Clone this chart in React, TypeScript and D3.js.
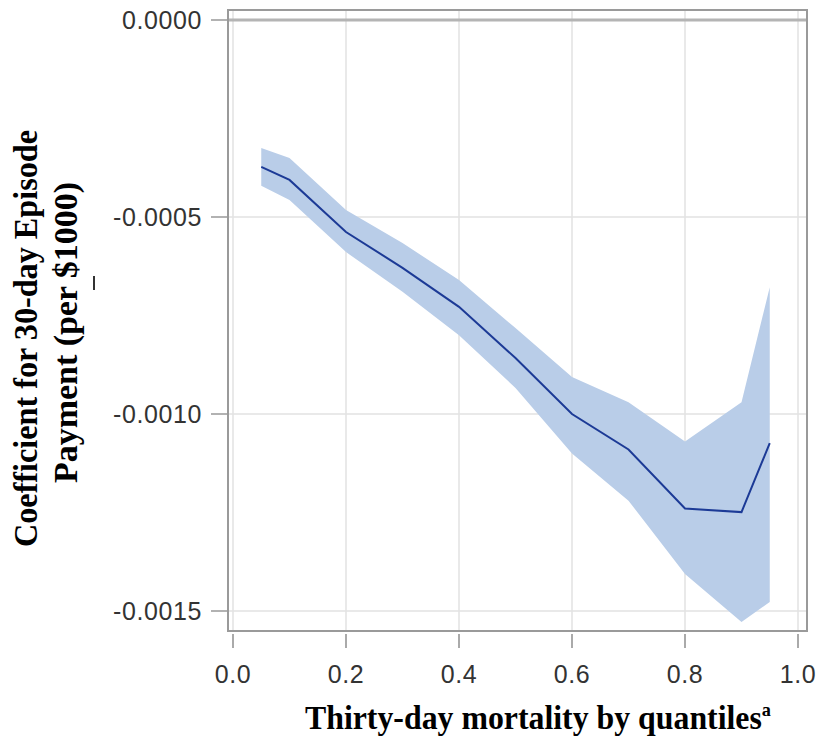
import React from 'react';
import * as d3 from 'd3';

const quantiles = [0.05, 0.1, 0.2, 0.3, 0.4, 0.5, 0.6, 0.7, 0.8, 0.9, 0.95];
const coefficient = [-0.000373, -0.000406, -0.000538, -0.000629, -0.000728, -0.000858, -0.001, -0.00109, -0.00124, -0.001249, -0.001074];
const upperCI = [-0.000325, -0.00035, -0.000482, -0.000566, -0.00066, -0.000782, -0.000906, -0.00097, -0.00107, -0.00097, -0.000678];
const lowerCI = [-0.000421, -0.000457, -0.000589, -0.00069, -0.0008, -0.000934, -0.0011, -0.00122, -0.001406, -0.001528, -0.001477];
const xTicks = [0, 0.2, 0.4, 0.6, 0.8, 1.0];
const yTicks = [0, -0.0005, -0.001, -0.0015];

export default function App() {
    const width = 817;
    const height = 740;
    const frame = { left: 228, right: 807, top: 10, bottom: 631 };

    const x = d3.scaleLinear().domain([0, 1]).range([233, 798]);
    const y = d3.scaleLinear().domain([0, -0.0015]).range([20, 611]);

    const rows = quantiles.map((q, i) => ({ q, c: coefficient[i], hi: upperCI[i], lo: lowerCI[i] }));

    const band = d3.area<typeof rows[0]>()
        .x(d => x(d.q))
        .y0(d => y(d.lo))
        .y1(d => y(d.hi));

    const line = d3.line<typeof rows[0]>()
        .x(d => x(d.q))
        .y(d => y(d.c));

    const tickFont = { fontFamily: '"Liberation Sans", Arial, sans-serif', fontSize: 25, fill: '#333', letterSpacing: 0.6 };
    const titleFont = { fontFamily: '"Liberation Serif", "Times New Roman", serif', fontSize: 33, fontWeight: 'bold' as const, fill: '#000' };

    return (
        <svg width={width} height={height} style={{ position: 'absolute', left: 0, top: 0, background: '#fff' }}>
            {/* grid */}
            {xTicks.map(t => (
                <line key={'gx' + t} x1={x(t)} x2={x(t)} y1={frame.top} y2={frame.bottom} stroke="#e2e2e2" strokeWidth={1.5} />
            ))}
            {yTicks.filter(t => t !== 0).map(t => (
                <line key={'gy' + t} x1={frame.left} x2={frame.right} y1={y(t)} y2={y(t)} stroke="#e2e2e2" strokeWidth={1.5} />
            ))}

            <path d={band(rows) ?? ''} fill="#b9cde8" />
            <path d={line(rows) ?? ''} fill="none" stroke="#1c3a96" strokeWidth={2} />

            {/* reference line at zero */}
            <line x1={frame.left} x2={frame.right} y1={y(0)} y2={y(0)} stroke="#b4b4b4" strokeWidth={3} />

            <rect x={frame.left} y={frame.top} width={frame.right - frame.left} height={frame.bottom - frame.top}
                fill="none" stroke="#9a9a9a" strokeWidth={2} />

            {/* y axis */}
            {yTicks.map(t => (
                <g key={'yt' + t}>
                    <line x1={211} x2={frame.left} y1={y(t)} y2={y(t)} stroke="#999" strokeWidth={1.5} />
                    <text x={202} y={y(t)} dy="0.36em" textAnchor="end" {...tickFont}>{d3.format('.4f')(t).replace('−', '-')}</text>
                </g>
            ))}

            {/* x axis */}
            {xTicks.map(t => (
                <g key={'xt' + t}>
                    <line x1={x(t)} x2={x(t)} y1={634} y2={648} stroke="#aaa" strokeWidth={2} />
                    <text x={x(t)} y={683} textAnchor="middle" {...tickFont}>{d3.format('.1f')(t)}</text>
                </g>
            ))}

            <text x={305} y={729} textLength={466} lengthAdjust="spacingAndGlyphs" {...titleFont}>
                Thirty-day mortality by quantiles<tspan fontSize={19} dy={-13}>a</tspan>
            </text>

            <g transform="rotate(-90)">
                <text x={-547} y={37} textLength={417} lengthAdjust="spacingAndGlyphs" {...titleFont}>Coefficient for 30-day Episode</text>
                <text x={-483} y={77} textLength={301} lengthAdjust="spacingAndGlyphs" {...titleFont}>Payment (per $1000)</text>
            </g>
            <line x1={94} x2={94} y1={276} y2={290} stroke="#333" strokeWidth={2} />
        </svg>
    );
}
